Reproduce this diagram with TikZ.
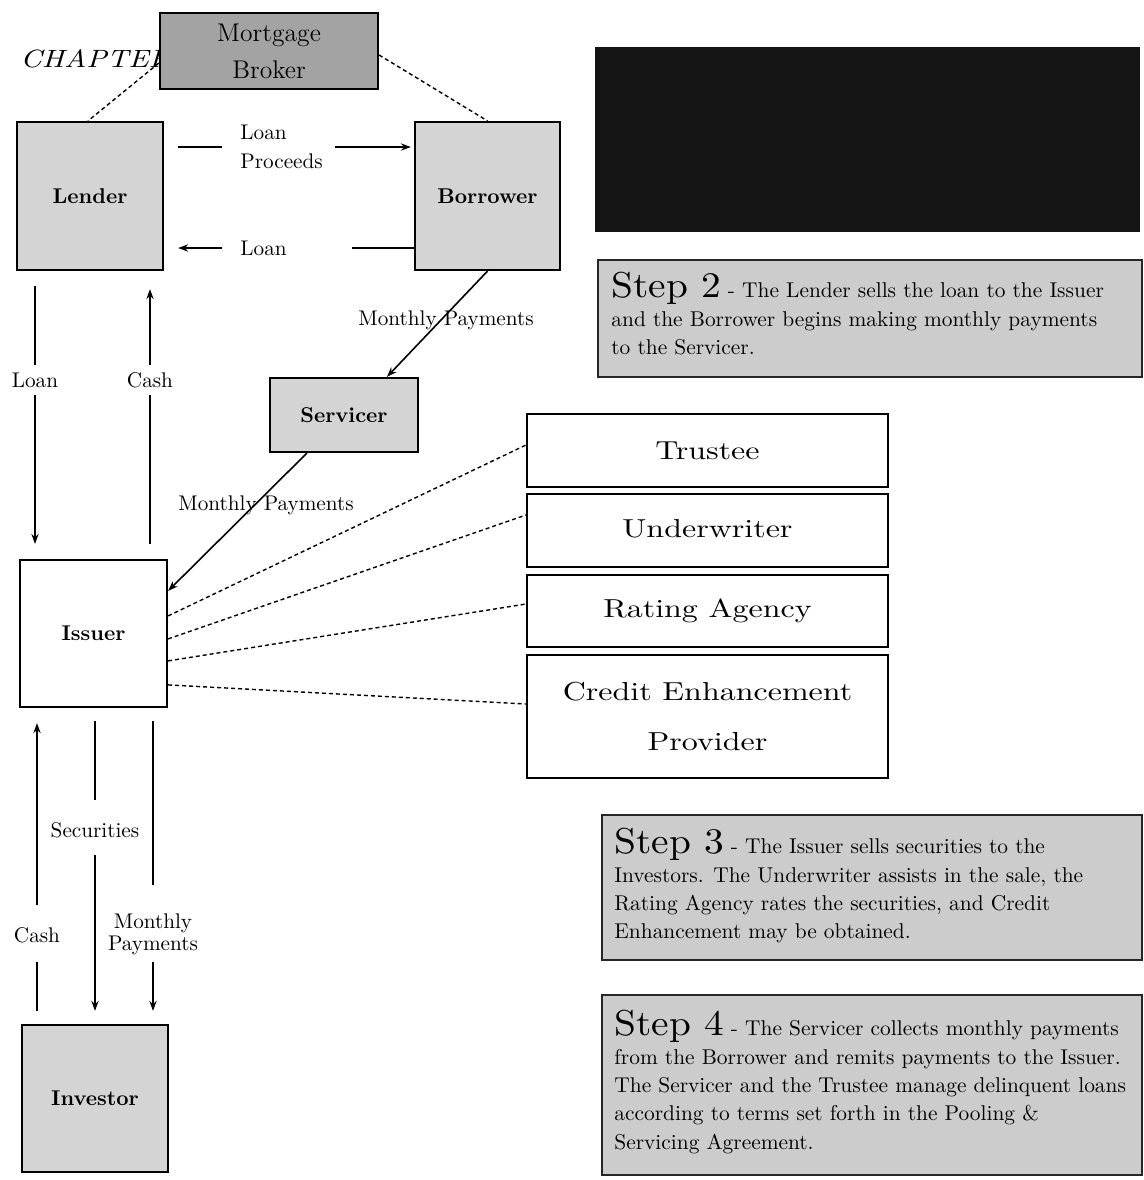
\documentclass[tikz,border=0pt]{standalone}
\usepackage{fontspec}
\usepackage{graphicx}
\usetikzlibrary{arrows.meta,calc}

\definecolor{boxgray}{gray}{0.83}
\definecolor{brokergray}{gray}{0.64}
\definecolor{stepgray}{gray}{0.80}
\definecolor{inkblack}{gray}{0.08}

\tikzset{
  party/.style={draw=black, line width=1.1pt, fill=boxgray, inner sep=0pt,
    font=\fontsize{10.7}{13}\selectfont\bfseries},
  flowlabel/.style={inner sep=0pt, font=\fontsize{10.6}{14.5}\selectfont},
  role/.style={draw=black, line width=1pt, fill=white, inner sep=0pt,
    minimum width=180.5pt, align=center, font=\fontsize{10}{25}\selectfont},
  stepbox/.style={draw=black!85, line width=1pt, fill=stepgray, inner sep=0pt},
  steptext/.style={anchor=north west, inner sep=0pt, align=left,
    font=\fontsize{10.7}{14.2}\selectfont},
  flow/.style={line width=0.8pt},
  flowarr/.style={line width=0.8pt, -{Stealth[length=5pt,width=3.6pt]}},
  tie/.style={line width=0.7pt, dash pattern=on 2pt off 1.5pt},
}
% wide, slightly squat lettering for the role boxes and step headings
\newcommand{\rolename}[1]{\scalebox{1.6}[1.3]{#1}}
\newcommand{\stephead}[1]{{\fontsize{10}{14.2}\selectfont\scalebox{1.97}[1.8]{Step #1}}}

\begin{document}
\begin{tikzpicture}[x=0.5pt, y=-0.5pt]
\useasboundingbox (0,0) rectangle (1144,1180);

% running head, partly hidden behind the broker box
\node[anchor=base west, inner sep=0pt, font=\fontsize{10}{12}\selectfont\itshape]
  (chap) at (20,67) {\scalebox{1.5}[1.25]{CHAPTER}};

% parties
\node[party, fill=brokergray, minimum width=109pt, minimum height=38pt, align=center,
  font=\fontsize{12.8}{18.5}\selectfont] (broker) at (269,51) {Mortgage\\Broker};
\node[party, minimum width=73pt, minimum height=74pt] (lender) at (90,196) {Lender};
\node[party, minimum width=72.5pt, minimum height=74pt] (borrower) at (487.5,196) {Borrower};
\node[party, minimum width=74pt, minimum height=37pt] (servicer) at (344,415) {Servicer};
\node[party, fill=white, minimum width=73.5pt, minimum height=73.5pt] (issuer) at (93.5,633.5) {Issuer};
\node[party, minimum width=73pt, minimum height=73.5pt] (investor) at (95,1098.5) {Investor};

% transaction roles
\node[role, minimum height=36.5pt] (trustee) at (707.5,450.5) {\rolename{Trustee}};
\node[role, minimum height=36.5pt] (underwriter) at (707.5,530.5)
  {\raisebox{2.5pt}{\rolename{Underwriter}}};
\node[role, minimum height=36pt] (rating) at (707.5,611) {\rolename{Rating Agency}};
\node[role, minimum height=61.5pt] (credit) at (707.5,716.5)
  {\rolename{Credit Enhancement}\\\rolename{Provider}};

% redacted block
\fill[inkblack] (595,47) rectangle (1140,232);

% step descriptions
\node[stepbox, minimum width=272pt, minimum height=58.5pt] (step2) at (870,318.5) {};
\node[stepbox, minimum width=270pt, minimum height=72.5pt] (step3) at (872,887.5) {};
\node[stepbox, minimum width=270pt, minimum height=90pt] (step4) at (872,1085) {};
\node[steptext] (step2txt) at ($(step2.north west)+(14,13)$)
  {\stephead{2} - The Lender sells the loan to the Issuer\\
   and the Borrower begins making monthly payments\\
   to the Servicer.};
\node[steptext] (step3txt) at ($(step3.north west)+(13,14)$)
  {\stephead{3} - The Issuer sells securities to the\\
   Investors. The Underwriter assists in the sale, the\\
   Rating Agency rates the securities, and Credit\\
   Enhancement may be obtained.};
\node[steptext] (step4txt) at ($(step4.north west)+(13,16)$)
  {\stephead{4} - The Servicer collects monthly payments\\
   from the Borrower and remits payments to the Issuer.\\
   The Servicer and the Trustee manage delinquent loans\\
   according to terms set forth in the Pooling \&\\
   Servicing Agreement.};

% flow labels
\node[flowlabel, align=left, anchor=west] (lp) at (240,147) {Loan\\Proceeds};
\node[flowlabel, anchor=west] (ln) at (240,248) {Loan};
\node[flowlabel] (ll) at (35,380) {Loan};
\node[flowlabel] (lc) at (150,380) {Cash};
\node[flowlabel] (mp1) at (446,320) {Monthly Payments};
\node[flowlabel] (mp2) at (266,505) {Monthly Payments};
\node[flowlabel] (ic) at (37,935) {Cash};
\node[flowlabel] (is) at (95,830) {Securities};
\node[flowlabel, align=center, font=\fontsize{10.6}{11}\selectfont] (im) at (153,934) {Monthly\\Payments};

% broker ties
\draw[tie] ($(broker.west)+(0,12)$) -- ($(lender.north)+(-2,0)$);
\draw[tie] ($(broker.east)+(0,4)$) -- (borrower.north);

% lender <-> borrower
\draw[flow] ($(lender.east |- lp)+(14,0)$) -- ($(lp.west)+(-18,0)$);
\draw[flowarr] ($(lp.east)+(12,0)$) -- ($(borrower.west |- lp)+(-3,0)$);
\draw[flow] (borrower.west |- ln) -- ($(ln.east)+(65,0)$);
\draw[flowarr] ($(ln.west)+(-18,0)$) -- ($(lender.east |- ln)+(14,0)$);

% lender <-> issuer
\draw[flow] ($(ll |- lender.south)+(0,15)$) -- ($(ll)+(0,-15)$);
\draw[flowarr] ($(ll)+(0,15)$) -- ($(ll |- issuer.north)+(0,-15)$);
\draw[flow] ($(lc |- issuer.north)+(0,-15)$) -- ($(lc)+(0,15)$);
\draw[flowarr] ($(lc)+(0,-15)$) -- ($(lc |- lender.south)+(0,18)$);

% monthly payments chain
\draw[flowarr] (borrower.south) -- ($(servicer.north west)+(118,0)$);
\draw[flowarr] ($(servicer.south west)+(38,0)$) -- ($(issuer.north east)+(0,32)$);

% issuer ties to the roles
\draw[tie] ($(issuer.north east)+(0,57)$) -- ($(trustee.north west)+(0,32)$);
\draw[tie] ($(issuer.north east)+(0,80)$) -- ($(underwriter.north west)+(0,22)$);
\draw[tie] ($(issuer.north east)+(0,102)$) -- ($(rating.north west)+(0,30)$);
\draw[tie] ($(issuer.north east)+(0,126)$) -- ($(credit.north west)+(0,50)$);

% issuer <-> investor
\draw[flow] ($(ic |- investor.north)+(0,-13)$) -- ($(ic)+(0,27)$);
\draw[flowarr] ($(ic)+(0,-30)$) -- ($(ic |- issuer.south)+(0,15)$);
\draw[flow] ($(is |- issuer.south)+(0,13)$) -- ($(is)+(0,-30)$);
\draw[flowarr] ($(is)+(0,25)$) -- ($(is |- investor.north)+(0,-13)$);
\draw[flow] ($(im |- issuer.south)+(0,13)$) -- ($(im)+(0,-49)$);
\draw[flowarr] ($(im)+(0,28)$) -- ($(im |- investor.north)+(0,-13)$);
\end{tikzpicture}
\end{document}
